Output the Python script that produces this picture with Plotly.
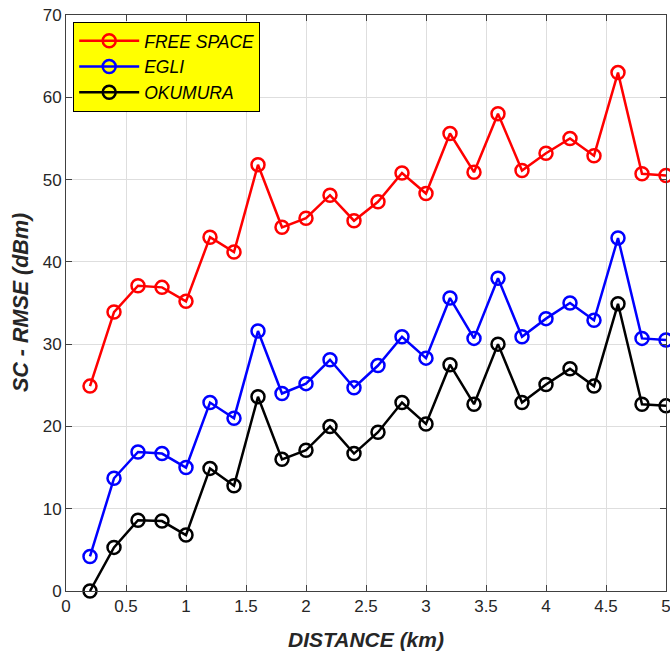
import plotly.graph_objects as go

distance = [0.2, 0.4, 0.6, 0.8, 1.0, 1.2, 1.4, 1.6, 1.8, 2.0, 2.2, 2.4, 2.6,
            2.8, 3.0, 3.2, 3.4, 3.6, 3.8, 4.0, 4.2, 4.4, 4.6, 4.8, 5.0]
free_space = [24.9, 33.9, 37.1, 36.9, 35.2, 43.0, 41.2, 51.8, 44.2, 45.3, 48.1, 45.0, 47.3,
              50.8, 48.3, 55.6, 50.9, 58.0, 51.1, 53.2, 55.0, 52.9, 63.0, 50.7, 50.5]
egli = [4.2, 13.7, 16.9, 16.7, 15.0, 22.9, 21.0, 31.6, 24.0, 25.2, 28.1, 24.7, 27.4,
        30.9, 28.3, 35.6, 30.7, 38.0, 30.9, 33.1, 35.0, 32.9, 42.9, 30.7, 30.5]
okumura = [0.0, 5.3, 8.6, 8.5, 6.8, 14.9, 12.8, 23.6, 16.0, 17.1, 20.0, 16.7, 19.3,
           22.9, 20.3, 27.5, 22.7, 30.0, 22.9, 25.1, 27.0, 24.9, 34.9, 22.7, 22.5]

series = [("FREE SPACE", free_space, "#ff0000"),
          ("EGLI", egli, "#0000ff"),
          ("OKUMURA", okumura, "#000000")]

x_ticks = [0, 0.5, 1, 1.5, 2, 2.5, 3, 3.5, 4, 4.5, 5]
x_tick_labels = ["0", "0.5", "1", "1.5", "2", "2.5", "3", "3.5", "4", "4.5", "5"]
y_ticks = [0, 10, 20, 30, 40, 50, 60, 70]

fig = go.Figure()
for name, vals, col in series:
    fig.add_trace(go.Scatter(
        x=distance, y=vals, name=name, mode="lines+markers",
        line=dict(color=col, width=2.5),
        marker=dict(symbol="circle-open", size=13, color=col, line=dict(width=2.5, color=col)),
        cliponaxis=False,
    ))

FONT = "Liberation Sans, Arial, sans-serif"
axis_common = dict(
    showline=True, linecolor="#404040", linewidth=1, mirror="ticks",
    ticks="inside", ticklen=6, tickcolor="#404040", tickwidth=1,
    showgrid=True, gridcolor="#dedede", gridwidth=1, zeroline=False,
    tickfont=dict(family=FONT, size=17, color="#262626"),
    ticklabeloverflow="allow", automargin=False,
)

fig.update_layout(
    width=670, height=660,
    margin=dict(l=66, r=4, t=15, b=69),
    paper_bgcolor="white", plot_bgcolor="white",
    xaxis=dict(range=[0, 5], tickvals=x_ticks, ticktext=x_tick_labels,
               title=dict(text="DISTANCE (km)", standoff=16,
                          font=dict(family=FONT, size=21, color="#262626", weight="bold", style="italic")),
               **axis_common),
    yaxis=dict(range=[0, 70], tickvals=y_ticks, **axis_common),
    annotations=[dict(text="SC - RMSE (dBm)", textangle=-90, xref="paper", yref="paper",
                      x=-0.075, y=0.5, xanchor="center", yanchor="middle", showarrow=False,
                      font=dict(family=FONT, size=21.5, color="#262626", weight="bold", style="italic"))],
    legend=dict(x=0.012, y=0.988, xanchor="left", yanchor="top",
                bgcolor="#ffff00", bordercolor="#000000", borderwidth=1,
                font=dict(family=FONT, size=17.5, color="#000000", style="italic"),
                tracegroupgap=0, itemwidth=60),
    showlegend=True,
)

fig.write_html("out.html")
